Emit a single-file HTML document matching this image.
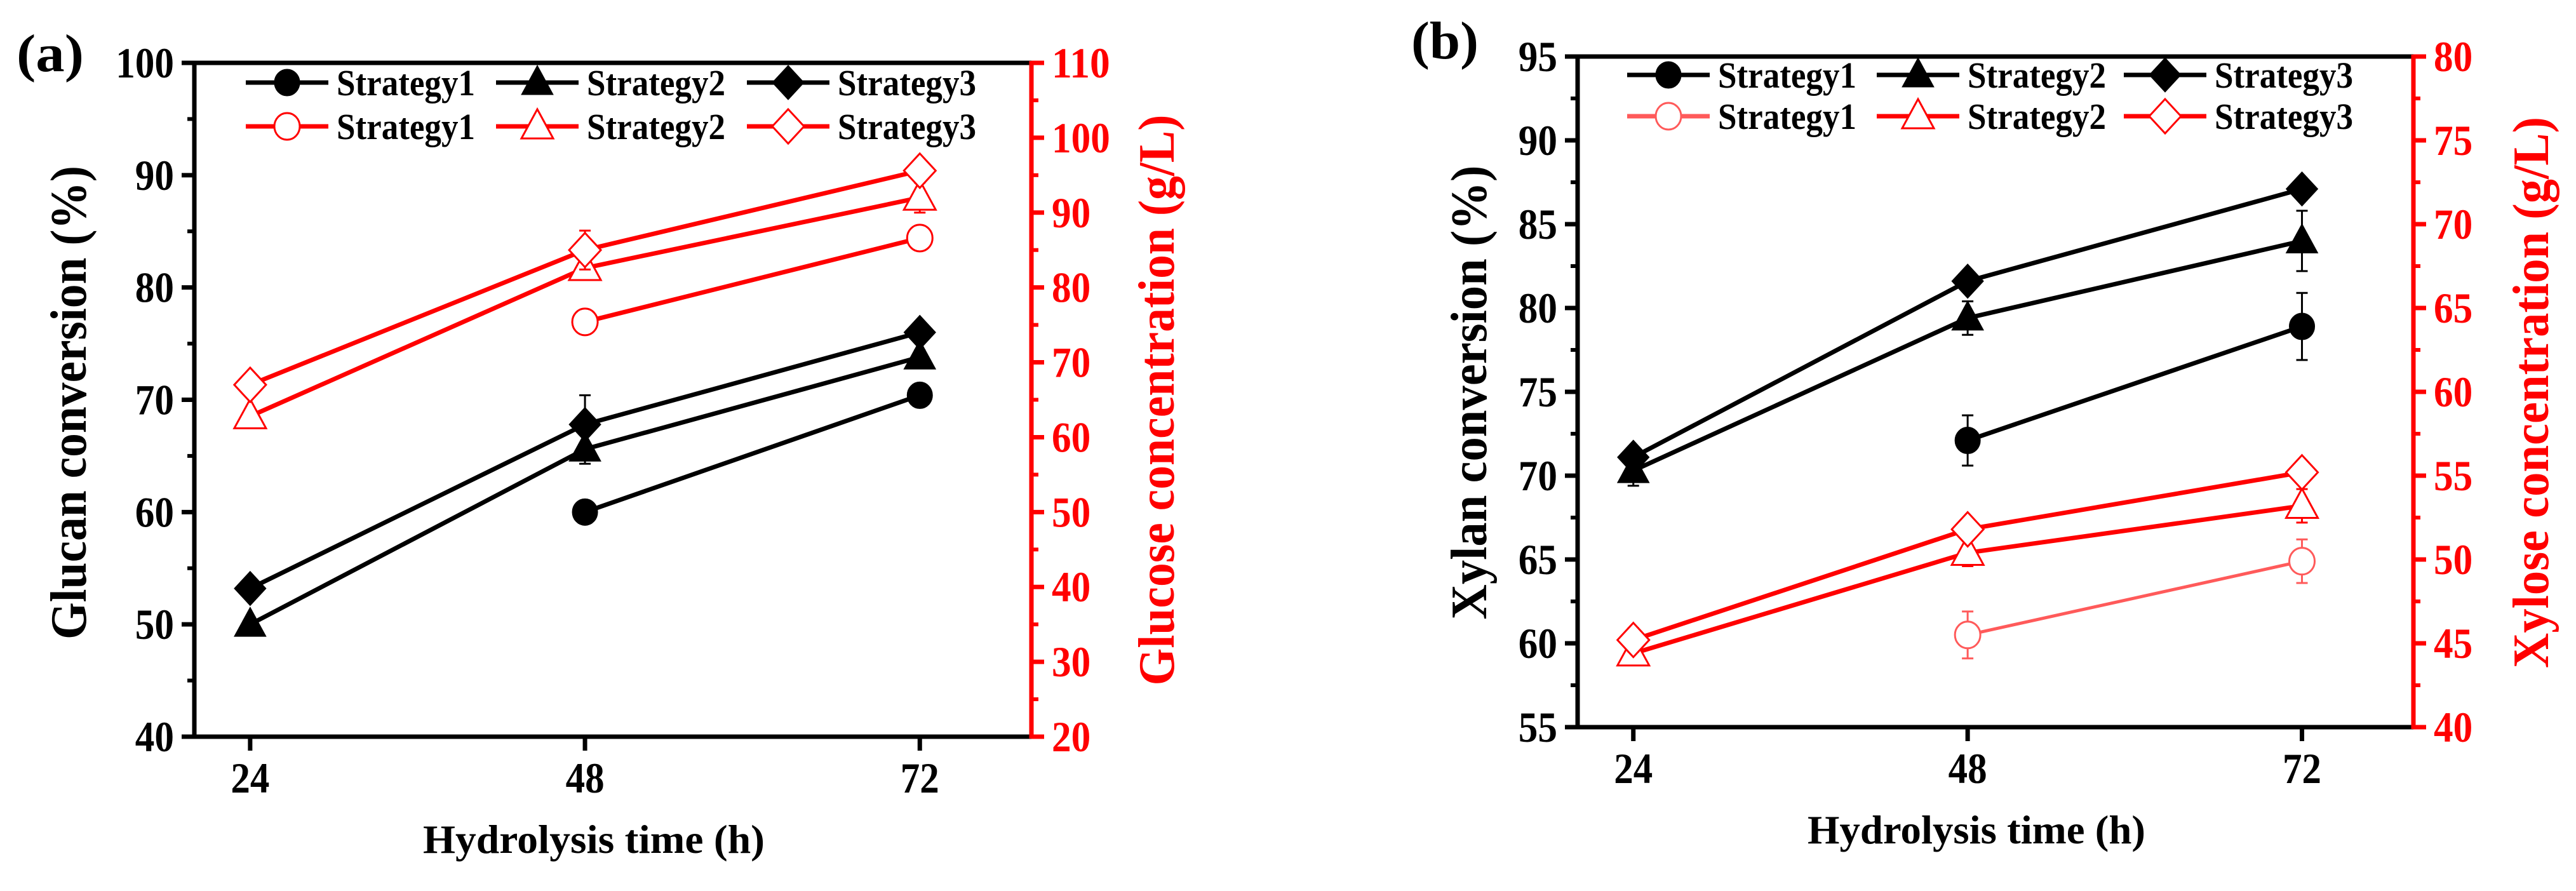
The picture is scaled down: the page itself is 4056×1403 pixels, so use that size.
<!DOCTYPE html>
<html><head><meta charset="utf-8"><style>
html,body{margin:0;padding:0;background:#fff;}
svg{display:block;font-family:"Liberation Serif",serif;font-weight:bold;}
</style></head><body>
<svg id="chart" width="4056" height="1403" viewBox="0 0 4056 1403" xmlns="http://www.w3.org/2000/svg"></svg>
<script>
// shared categories
const hours = [24, 48, 72];
const xTicks = ["24", "48", "72"];
const legendLabels = ["Strategy1", "Strategy2", "Strategy3"];
// panel (a): glucan conversion (%) (left axis)
const aGlucanS1 = [null, 60.0, 70.4];
const aGlucanS2 = [50.0, 65.6, 73.8];
const aGlucanS3 = [53.2, 67.8, 76.0];
const aGlucanErrS1 = [0, 1.0, 0.6];
const aGlucanErrS2 = [0.5, 1.3, 0.6];
const aGlucanErrS3 = [0.5, 2.6, 0.5];
// panel (a): glucose concentration g/L (right axis)
const aGlucoseS1 = [null, 75.4, 86.6];
const aGlucoseS2 = [62.8, 82.6, 92.0];
const aGlucoseS3 = [67.0, 85.0, 95.6];
const aGlucoseErrS1 = [0, 0.8, 1.3];
const aGlucoseErrS2 = [1.0, 1.5, 2.0];
const aGlucoseErrS3 = [1.0, 2.6, 1.0];
const aLeftTicks = [40, 50, 60, 70, 80, 90, 100];
const aRightTicks = [20, 30, 40, 50, 60, 70, 80, 90, 100, 110];
// panel (b): xylan conversion (%) (left axis)
const bXylanS1 = [null, 72.1, 78.9];
const bXylanS2 = [70.3, 79.4, 84.0];
const bXylanS3 = [71.1, 81.6, 87.1];
const bXylanErrS1 = [0, 1.5, 2.0];
const bXylanErrS2 = [0.9, 1.0, 1.8];
const bXylanErrS3 = [0.4, 0.6, 0.4];
// panel (b): xylose concentration g/L (right axis)
const bXyloseS1 = [null, 45.5, 49.9];
const bXyloseS2 = [44.4, 50.4, 53.2];
const bXyloseS3 = [45.2, 51.8, 55.2];
const bXyloseErrS1 = [0, 1.4, 1.3];
const bXyloseErrS2 = [0.5, 0.8, 1.0];
const bXyloseErrS3 = [0.7, 0.6, 0.6];
const bLeftTicks = [55, 60, 65, 70, 75, 80, 85, 90, 95];
const bRightTicks = [40, 45, 50, 55, 60, 65, 70, 75, 80];

const NS = "http://www.w3.org/2000/svg";
const svg = document.getElementById("chart");
function mk(tag, attrs, parent) {
  const e = document.createElementNS(NS, tag);
  for (const k in attrs) e.setAttribute(k, attrs[k]);
  (parent || svg).appendChild(e);
  return e;
}
function marker(g, shape, cx, cy, color, filled) {
  const fill = filled ? color : "#fff";
  const sw = filled ? 1 : 3;
  let m;
  if (shape === 0) m = mk("ellipse", {cx: cx, cy: cy, rx: 20, ry: 21, fill: fill, stroke: color, "stroke-width": sw}, g);
  else if (shape === 1) m = mk("polygon", {points: `${cx},${cy-27} ${cx+25},${cy+19} ${cx-25},${cy+19}`, fill: fill, stroke: color, "stroke-width": sw}, g);
  else m = mk("polygon", {points: `${cx},${cy-27} ${cx+25},${cy} ${cx},${cy+27} ${cx-25},${cy}`, fill: fill, stroke: color, "stroke-width": sw}, g);
  return m;
}

function panel(P) {
  const g = mk("g", {});
  
  
  const xS = v => P.x0 + (v - 20) / 60 * (P.x1 - P.x0);
  const yL = v => P.y1 - (v - P.lmin) / (P.lmax - P.lmin) * (P.y1 - P.y0);
  const yR = v => P.y1 - (v - P.rmin) / (P.rmax - P.rmin) * (P.y1 - P.y0);

  const top = mk("line", {x1: P.x0 - 3, y1: P.y0, x2: P.x1 + 3, y2: P.y0, stroke: "#000", "stroke-width": 7}, g);
  
  
  const bot = mk("line", {x1: P.x0 - 3, y1: P.y1, x2: P.x1 + 3, y2: P.y1, stroke: "#000", "stroke-width": 7}, g);
  
  
  const la = mk("line", {x1: P.x0, y1: P.y0, x2: P.x0, y2: P.y1, stroke: "#000", "stroke-width": 7}, g);
  
  
  const ra = mk("line", {x1: P.x1, y1: P.y0 - 3, x2: P.x1, y2: P.y1 + 3, stroke: "#f00", "stroke-width": 7}, g);
  
  

  P.lt.forEach((v, i) => {
    const y = yL(v);
    mk("line", {x1: P.x0 - 20, y1: y, x2: P.x0, y2: y, stroke: "#000", "stroke-width": 7}, g);
    if (i < P.lt.length - 1) {
      const ym = yL(v + (P.lt[1] - P.lt[0]) / 2);
      mk("line", {x1: P.x0 - 11, y1: ym, x2: P.x0, y2: ym, stroke: "#000", "stroke-width": 6}, g);
    }
    const s = String(v);
    const t = mk("text", {x: P.x0 - 32, y: y + 23, "text-anchor": "end", "font-size": 68, fill: "#000", textLength: s.length * 30.6, lengthAdjust: "spacingAndGlyphs"}, g);
    t.textContent = s;
    
    
  });
  P.rt.forEach((v, i) => {
    const y = yR(v);
    mk("line", {x1: P.x1, y1: y, x2: P.x1 + 20, y2: y, stroke: "#f00", "stroke-width": 7}, g);
    if (i < P.rt.length - 1) {
      const ym = yR(v + (P.rt[1] - P.rt[0]) / 2);
      mk("line", {x1: P.x1, y1: ym, x2: P.x1 + 11, y2: ym, stroke: "#f00", "stroke-width": 6}, g);
    }
    const s = String(v);
    const t = mk("text", {x: P.x1 + 32, y: y + 23, "text-anchor": "start", "font-size": 68, fill: "#f00", textLength: s.length * 30.6, lengthAdjust: "spacingAndGlyphs"}, g);
    t.textContent = s;
    
    
  });
  hours.forEach((h, i) => {
    const x = xS(h);
    mk("line", {x1: x, y1: P.y1, x2: x, y2: P.y1 + 22, stroke: "#000", "stroke-width": 7}, g);
    const t = mk("text", {x: x, y: P.y1 + 88, "text-anchor": "middle", "font-size": 68, fill: "#000", textLength: 61, lengthAdjust: "spacingAndGlyphs"}, g);
    t.textContent = xTicks[i];
    
    
  });
  const xt = mk("text", {x: (P.x0 + P.x1) / 2 - 30, y: P.y1 + 183, "text-anchor": "middle", "font-size": 64, fill: "#000", textLength: P.xtLen, lengthAdjust: "spacingAndGlyphs"}, g);
  xt.textContent = "Hydrolysis time (h)";
  
  
  const ylt = mk("text", {x: 0, y: 0, "text-anchor": "middle", "font-size": 80, fill: "#000", textLength: P.ylLen, lengthAdjust: "spacingAndGlyphs", transform: `translate(${P.ylX},${P.ylY}) rotate(-90)`}, g);
  ylt.textContent = P.ylTitle;
  
  
  const yrt = mk("text", {x: 0, y: 0, "text-anchor": "middle", "font-size": 80, fill: "#f00", textLength: P.yrLen, lengthAdjust: "spacingAndGlyphs", transform: `translate(${P.yrX},${P.yrY}) rotate(-90)`}, g);
  yrt.textContent = P.yrTitle;
  
  
  const lab = mk("text", {x: P.labX, y: P.labY, "font-size": 84, fill: "#000", textLength: 106, lengthAdjust: "spacingAndGlyphs"}, g);
  lab.textContent = P.label;
  
  

  function series(vals, errs, shape, color, filled, ys, nm, lw) {
    const sg = mk("g", {}, g);
    
    
    let pts = [];
    vals.forEach((v, i) => { if (v !== null) pts.push([xS(hours[i]), ys(v), i]); });
    const pl = mk("polyline", {points: pts.map(p => p[0] + "," + p[1]).join(" "), fill: "none", stroke: color, "stroke-width": lw, "stroke-linejoin": "round"}, sg);
    
    
    pts.forEach(p => {
      const e = errs[p[2]];
      if (e > 0) {
        const yt = ys(vals[p[2]] + e), yb = ys(vals[p[2]] - e);
        const eb = mk("path", {d: `M${p[0]},${yt}V${yb}M${p[0]-9},${yt}H${p[0]+9}M${p[0]-9},${yb}H${p[0]+9}`, stroke: color, "stroke-width": 3, fill: "none"}, sg);
        
        
      }
    });
    pts.forEach(p => {
      const m = marker(sg, shape, p[0], p[1], color, filled);
      
      
    });
  }
  series(P.r[0], P.re[0], 0, P.r1Color, false, yR, "red-strategy1", P.r1W);
  series(P.r[1], P.re[1], 1, "#f00", false, yR, "red-strategy2", 7);
  series(P.r[2], P.re[2], 2, "#f00", false, yR, "red-strategy3", 7);
  series(P.b[0], P.be[0], 0, "#000", true, yL, "black-strategy1", 7);
  series(P.b[1], P.be[1], 1, "#000", true, yL, "black-strategy2", 7);
  series(P.b[2], P.be[2], 2, "#000", true, yL, "black-strategy3", 7);

  const lg = mk("g", {}, g);
  
  
  [0, 1].forEach(row => {
    legendLabels.forEach((lbl, i) => {
      const cx = P.legX[i], cy = P.legY[row];
      const color = row === 0 ? "#000" : (i === 0 ? P.r1Color : "#f00");
      const eg = mk("g", {}, lg);
      
      
      mk("line", {x1: cx - 65, y1: cy, x2: cx + 65, y2: cy, stroke: color, "stroke-width": 7}, eg);
      marker(eg, i, cx, cy, color, row === 0);
      const t = mk("text", {x: cx + 78, y: cy + 20, "font-size": 58, fill: "#000", textLength: 218, lengthAdjust: "spacingAndGlyphs"}, eg);
      t.textContent = lbl;
    });
  });
}

panel({name: "panel-a", label: "(a)", labX: 26, labY: 112,
  x0: 306, x1: 1624, y0: 99, y1: 1160,
  lmin: 40, lmax: 100, rmin: 20, rmax: 110, lt: aLeftTicks, rt: aRightTicks,
  b: [aGlucanS1, aGlucanS2, aGlucanS3], be: [aGlucanErrS1, aGlucanErrS2, aGlucanErrS3],
  r: [aGlucoseS1, aGlucoseS2, aGlucoseS3], re: [aGlucoseErrS1, aGlucoseErrS2, aGlucoseErrS3],
  r1Color: "#f00", r1W: 7,
  xtLen: 538, ylTitle: "Glucan conversion (%)", ylLen: 746, ylX: 135, ylY: 634,
  yrTitle: "Glucose concentration (g/L)", yrLen: 899, yrX: 1848, yrY: 630,
  legX: [452, 846, 1241], legY: [130, 199]});

panel({name: "panel-b", label: "(b)", labX: 2222, labY: 92,
  x0: 2484, x1: 3800, y0: 89, y1: 1145,
  lmin: 55, lmax: 95, rmin: 40, rmax: 80, lt: bLeftTicks, rt: bRightTicks,
  b: [bXylanS1, bXylanS2, bXylanS3], be: [bXylanErrS1, bXylanErrS2, bXylanErrS3],
  r: [bXyloseS1, bXyloseS2, bXyloseS3], re: [bXyloseErrS1, bXyloseErrS2, bXyloseErrS3],
  r1Color: "#ff5a5a", r1W: 5,
  xtLen: 532, ylTitle: "Xylan conversion (%)", ylLen: 715, ylX: 2340, ylY: 618,
  yrTitle: "Xylose concentration (g/L)", yrLen: 868, yrX: 4012, yrY: 618,
  legX: [2627, 3020, 3409], legY: [118, 183]});
</script>
</body></html>
